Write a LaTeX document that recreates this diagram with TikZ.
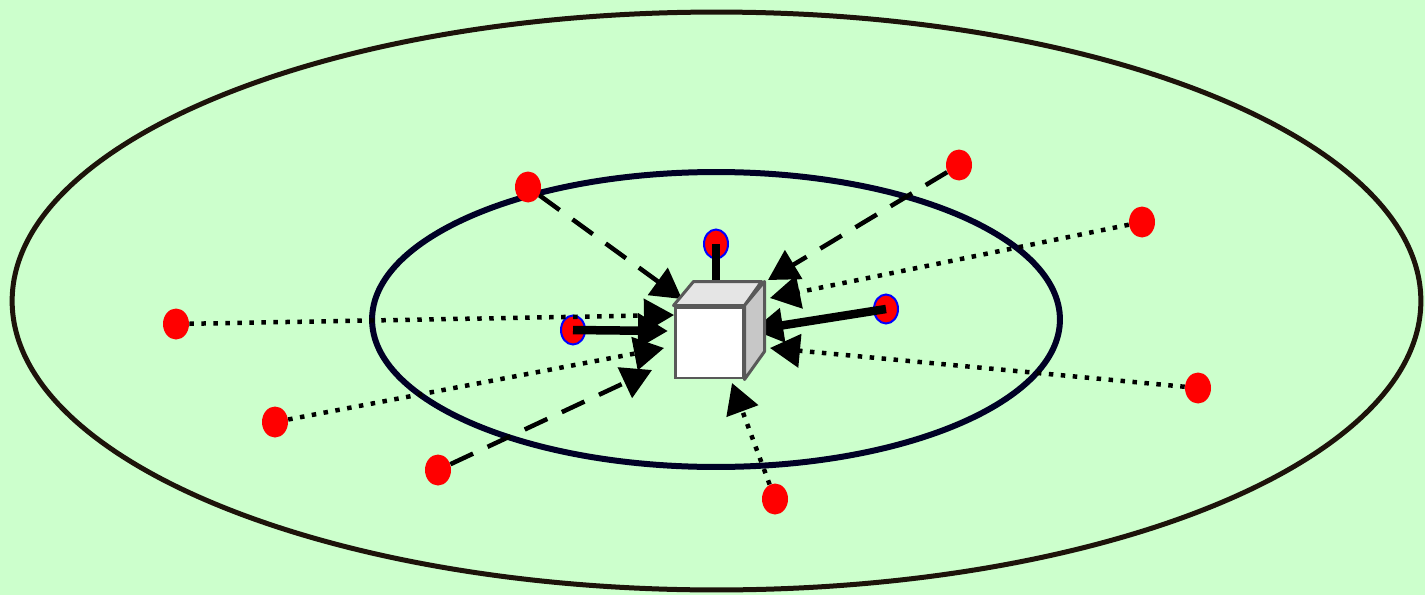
\documentclass[tikz,border=0pt]{standalone}
\usepackage{tikz}
\usetikzlibrary{arrows.meta,shapes.geometric}

\begin{document}
\begin{tikzpicture}[
    x=0.02cm, y=-0.02cm,
    sensor/.style={ellipse, fill=red, inner sep=0pt, minimum width=0.52cm, minimum height=0.62cm},
    beacon/.style={sensor, draw=blue, line width=0.04cm, minimum width=0.48cm, minimum height=0.58cm},
    hit/.style={-{Triangle[length=0.6cm,width=0.66cm]}},
    dotline/.style={hit, line width=0.09cm, dash pattern=on 0.09cm off 0.15cm},
    dashline/.style={hit, line width=0.09cm, dash pattern=on 0.5cm off 0.32cm},
    fixline/.style={line width=0.17cm}
]
    \definecolor{bgc}{HTML}{CCFFCC}
    \colorlet{rng}{black!85!brown}
    \colorlet{inr}{black!85!blue}

    \fill[bgc] (0,0) rectangle (1425,595);
    \useasboundingbox (0,0) rectangle (1425,595);

    \draw[rng, line width=0.1cm] (716.5,301) ellipse [x radius=14.09cm, y radius=5.78cm];
    \draw[inr, line width=0.12cm] (716,319.5) ellipse [x radius=6.88cm, y radius=2.95cm];

    \node[sensor] (s1) at (528,187) {};
    \node[sensor] (s2) at (959,165) {};
    \node[sensor] (s3) at (1142,222) {};
    \node[sensor] (s4) at (176,324) {};
    \node[sensor] (s5) at (275,422) {};
    \node[sensor] (s6) at (1198,388) {};
    \node[sensor] (s7) at (438,470) {};
    \node[sensor] (s8) at (775,499) {};
    \node[beacon] (a) at (716,244) {};
    \node[beacon] (b) at (573,330) {};
    \node[beacon] (c) at (886,309) {};

    \coordinate (t1) at (682,299);
    \coordinate (t2) at (768,280);
    \coordinate (t3) at (770,298);
    \coordinate (t4) at (674,315);
    \coordinate (t5) at (664,348);
    \coordinate (t6) at (770,348);
    \coordinate (t7) at (652,370);
    \coordinate (t8) at (732,383);
    \coordinate (ta) at (716,300);
    \coordinate (tb) at (668,331);
    \coordinate (tc) at (753,330);

    \draw[dashline] (s1) -- (t1);
    \draw[dashline] (s2) -- (t2);
    \draw[dotline] (s3) -- (t3);
    \draw[dotline] (s4) -- (t4);
    \draw[dotline] (s5) -- (t5);
    \draw[dotline] (s6) -- (t6);
    \draw[dashline] (s7) -- (t7);
    \draw[dotline] (s8) -- (t8);
    \draw[fixline] (a.center) -- (ta);
    \draw[fixline, hit] (b.center) -- (tb);
    \draw[fixline, hit] (c.center) -- (tc);

    \node[draw=black!65, line width=0.06cm, fill=white, inner sep=0pt,
        minimum width=1.36cm, minimum height=1.42cm] (cube) at (709,342.5) {};
    \draw[black!65, line width=0.06cm, fill=black!10, line join=round]
        (cube.north west) -- ++(20,-24) -- ++(68,0) -- (cube.north east) -- cycle;
    \draw[black!65, line width=0.06cm, fill=black!22, line join=round]
        (cube.north east) -- ++(20,-24) -- ++(0,70) -- (cube.south east) -- cycle;
\end{tikzpicture}
\end{document}
